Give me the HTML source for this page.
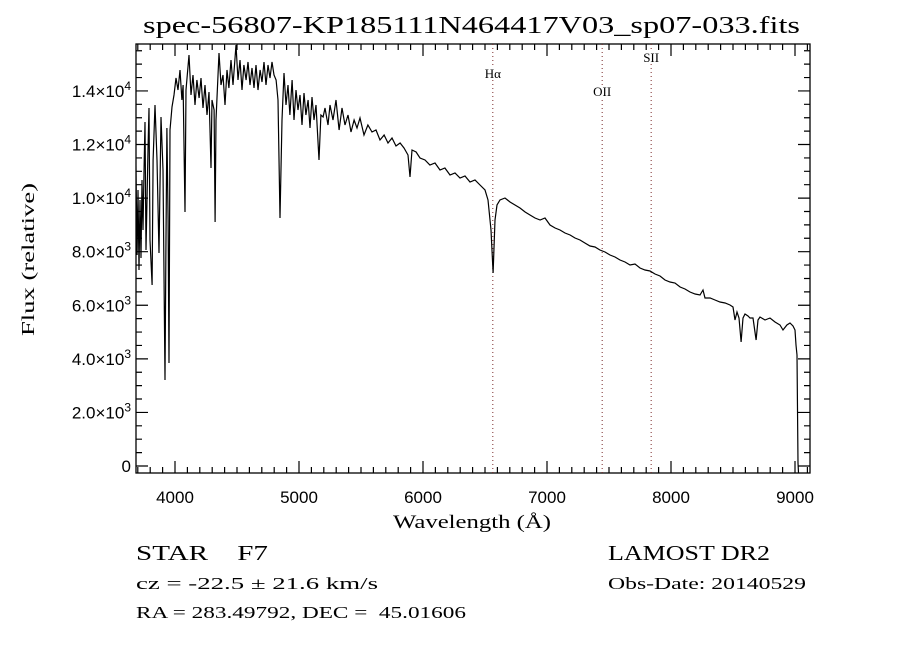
<!DOCTYPE html>
<html><head><meta charset="utf-8"><style>
body{margin:0;background:#fff;}
svg text{fill:#000;}
</style></head><body>
<svg id="chart" width="900" height="650" viewBox="0 0 900 650" xmlns="http://www.w3.org/2000/svg">
<rect x="0" y="0" width="900" height="650" fill="#fff"/>
<text x="143" y="33" font-family="Liberation Serif, serif" font-size="24" textLength="657" lengthAdjust="spacingAndGlyphs">spec-56807-KP185111N464417V03_sp07-033.fits</text>
<g id="axes"></g>
<g id="marks"></g>
<text x="393" y="528" font-family="Liberation Serif, serif" font-size="19" textLength="158" lengthAdjust="spacingAndGlyphs">Wavelength (Å)</text>
<text transform="translate(34,336) rotate(-90)" font-family="Liberation Serif, serif" font-size="18" textLength="153" lengthAdjust="spacingAndGlyphs">Flux (relative)</text>
<text x="136" y="560" font-family="Liberation Serif, serif" font-size="21" textLength="132" lengthAdjust="spacingAndGlyphs" xml:space="preserve">STAR    F7</text>
<text x="136" y="589" font-family="Liberation Serif, serif" font-size="17" textLength="242" lengthAdjust="spacingAndGlyphs">cz = -22.5 ± 21.6 km/s</text>
<text x="136" y="618" font-family="Liberation Serif, serif" font-size="17" textLength="330" lengthAdjust="spacingAndGlyphs" xml:space="preserve">RA = 283.49792, DEC =  45.01606</text>
<text x="608" y="560" font-family="Liberation Serif, serif" font-size="21" textLength="162" lengthAdjust="spacingAndGlyphs">LAMOST DR2</text>
<text x="608" y="589" font-family="Liberation Serif, serif" font-size="17" textLength="198" lengthAdjust="spacingAndGlyphs">Obs-Date: 20140529</text>
</svg>
<script>
const wavelengths=[3685,3694,3702,3710,3718,3726,3734,3742,3750,3758,3766,3774,3782,3790,3798,3815,3823,3839,3855,3871,3887,3903,3919,3927,3935,3944,3952,3960,3976,3992,4008,4024,4040,4056,4065,4081,4089,4113,4129,4145,4161,4177,4194,4210,4226,4242,4258,4274,4290,4298,4315,4323,4331,4355,4371,4387,4403,4419,4435,4452,4468,4492,4508,4524,4540,4556,4573,4589,4605,4621,4637,4653,4669,4686,4702,4718,4734,4750,4766,4782,4798,4815,4831,4847,4863,4879,4895,4911,4927,4944,4960,4976,4992,5008,5024,5040,5056,5073,5089,5105,5121,5137,5161,5177,5194,5210,5234,5250,5274,5298,5323,5347,5371,5395,5419,5444,5468,5492,5524,5556,5589,5621,5653,5686,5718,5750,5782,5815,5847,5879,5895,5911,5944,5976,6016,6056,6097,6137,6177,6218,6258,6298,6339,6379,6419,6460,6500,6524,6548,6565,6581,6597,6621,6661,6702,6742,6782,6823,6863,6903,6944,6984,7024,7065,7105,7145,7186,7226,7266,7306,7347,7387,7427,7468,7508,7548,7589,7629,7669,7710,7750,7790,7831,7871,7911,7952,7992,8032,8073,8113,8153,8194,8234,8258,8274,8315,8355,8395,8436,8476,8500,8516,8532,8548,8565,8581,8597,8621,8637,8661,8686,8702,8718,8758,8798,8839,8879,8903,8935,8960,8984,9000,9008,9016,9024,9030];
const fluxValues=[11236,7877,10303,7317,9930,7765,10676,8810,10975,12842,8063,9930,11796,13364,8437,6757,11423,13476,11423,7951,13028,11050,3210,8063,12618,9183,3845,12543,13402,13850,14484,14036,14783,13663,14223,9482,14036,15343,13850,14596,13476,14410,13738,14484,13364,14223,13103,13962,11124,13663,13289,9109,12916,15417,14223,14596,13476,14783,14111,15156,14223,15716,14410,15156,14036,14970,14410,15082,14223,14857,14111,14970,14036,14783,14335,15082,14223,14970,14484,15082,14596,14410,13663,9258,12916,14671,13476,14223,13103,14410,12916,14036,13289,13850,12729,13924,13103,13663,12618,13775,12916,13476,11423,13103,13028,13364,12729,13476,12916,13663,12543,13364,12729,13103,12468,12916,12618,12991,12356,12729,12468,12543,12170,12356,12058,12245,11946,12058,11871,11610,10788,11796,11722,11498,11423,11236,11311,11050,11124,10863,10938,10751,10826,10602,10676,10490,10303,9930,8810,7205,9183,9743,9930,10004,9855,9743,9631,9482,9370,9258,9183,9258,8997,8885,8810,8698,8623,8511,8437,8325,8213,8175,8063,7989,7877,7802,7690,7615,7503,7541,7391,7317,7279,7167,7093,6943,6869,6831,6682,6607,6495,6421,6383,6570,6271,6271,6197,6122,6085,6010,5935,5450,5749,5525,4629,5525,5674,5600,5525,5525,4704,5450,5562,5450,5525,5375,5264,5077,5264,5338,5226,5077,4517,4144,112,-400];
const xTickValues=[4000,5000,6000,7000,8000,9000];
const xTickLabels=["4000","5000","6000","7000","8000","9000"];
const yTickValues=[0,2000,4000,6000,8000,10000,12000,14000];
const yTickMant=["0","2.0","4.0","6.0","8.0","1.0","1.2","1.4"];
const yTickExp=["","3","3","3","3","4","4","4"];
const lineNames=["Hα","OII","SII"];
const lineWaves=[6563,7445,7840];
const lineLabelY=[78,96,62];

const L=136,R=810,T=44,B=473;
const X=w=>175+(w-4000)*0.124;
const Y=f=>466-f*0.02679;
const NS="http://www.w3.org/2000/svg";
const axes=document.getElementById('axes'),marks=document.getElementById('marks');
function mk(tag,attrs,parent){const e=document.createElementNS(NS,tag);for(const k in attrs)e.setAttribute(k,attrs[k]);parent.appendChild(e);return e;}

const frame=mk('rect',{x:L,y:T,width:R-L,height:B-T,fill:'none',stroke:'#000','stroke-width':1.3},axes);



let d='';
for(let w=3700;w<=9100;w+=100){const x=X(w);if(x<L||x>R)continue;const len=(w%1000===0)?12:6;d+=`M${x} ${B}v${-len}M${x} ${T}v${len}`;}
for(let f=0;f<=15500;f+=500){const y=Y(f);if(y<T||y>B)continue;const len=(f%2000===0)?12:6;d+=`M${L} ${y}h${len}M${R} ${y}h${-len}`;}
const ticks=mk('path',{d:d,stroke:'#000','stroke-width':1.2,fill:'none'},axes);



xTickValues.forEach((v,i)=>{
  const t=mk('text',{x:X(v),y:503,'font-family':'Liberation Sans, sans-serif','font-size':17,'text-anchor':'middle'},axes);
  t.textContent=xTickLabels[i];
  
  
});
yTickValues.forEach((v,i)=>{
  const t=mk('text',{x:131,y:Y(v)+6,'font-family':'Liberation Sans, sans-serif','font-size':17,'text-anchor':'end'},axes);
  if(yTickExp[i]){
    t.textContent=yTickMant[i]+'×10';
    const s=mk('tspan',{dy:-7,'font-size':12},t);s.textContent=yTickExp[i];
  } else t.textContent=yTickMant[i];
  
  
});

lineWaves.forEach((w,i)=>{
  const x=X(w);
  const ln=mk('line',{x1:x,x2:x,y1:T,y2:B,stroke:'#7a2a2a','stroke-width':1,'stroke-dasharray':'1 3'},marks);
  
  
  const t=mk('text',{x:x,y:lineLabelY[i],'font-family':'Liberation Serif, serif','font-size':13,'text-anchor':'middle',stroke:'#fff','stroke-width':3,'paint-order':'stroke'},marks);
  t.textContent=lineNames[i];
  
  
});

mk('clipPath',{id:'clip'},marks).appendChild(document.createElementNS(NS,'rect'));
const cr=marks.querySelector('#clip rect');cr.setAttribute('x',L);cr.setAttribute('y',T);cr.setAttribute('width',R-L);cr.setAttribute('height',B-T);
let pd='';
wavelengths.forEach((w,i)=>{pd+=(i?'L':'M')+X(w).toFixed(1)+' '+Y(fluxValues[i]).toFixed(1);});
const sp=mk('path',{d:pd,fill:'none',stroke:'#000','stroke-width':1.2,'clip-path':'url(#clip)'},marks);


</script>
</body></html>
